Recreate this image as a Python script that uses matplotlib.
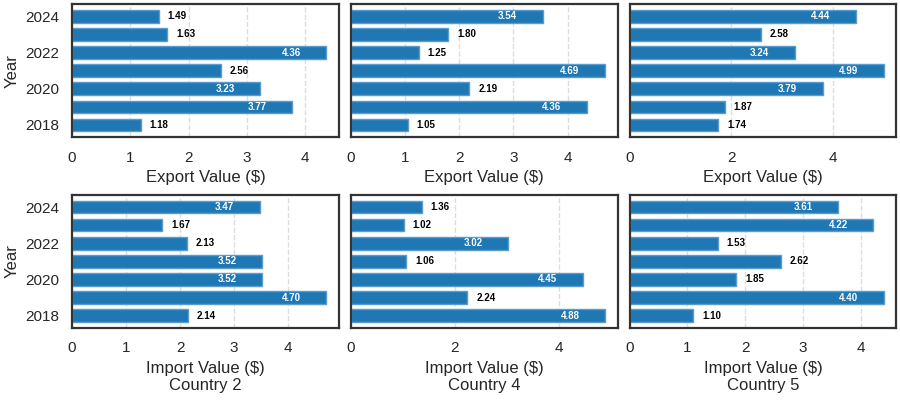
import matplotlib
matplotlib.use("Agg")
import matplotlib.pyplot as plt
import seaborn as sns

sns.set_theme(style="white", context="notebook")
plt.rcParams['font.family'] = ['Liberation Sans', 'DejaVu Sans']

years = [2018, 2019, 2020, 2021, 2022, 2023, 2024]
countries = ["Country 2", "Country 4", "Country 5"]

# export values per country, 2018..2024
export_c2 = [1.18, 3.77, 3.23, 2.56, 4.36, 1.63, 1.49]
export_c4 = [1.05, 4.36, 2.19, 4.69, 1.25, 1.80, 3.54]
export_c5 = [1.74, 1.87, 3.79, 4.99, 3.24, 2.58, 4.44]

# import values per country, 2018..2024
import_c2 = [2.14, 4.70, 3.52, 3.52, 2.13, 1.67, 3.47]
import_c4 = [4.88, 2.24, 4.45, 1.06, 3.02, 1.02, 1.36]
import_c5 = [1.10, 4.40, 1.85, 2.62, 1.53, 4.22, 3.61]

rows = [
    ("Export Value ($)", [export_c2, export_c4, export_c5]),
    ("Import Value ($)", [import_c2, import_c4, import_c5]),
]

fig, axes = plt.subplots(2, 3, figsize=(9, 4), dpi=100, sharey=True)
fig.subplots_adjust(left=0.08, right=0.996, top=0.99, bottom=0.18,
                    wspace=0.045, hspace=0.43)

for r, (xlabel, series) in enumerate(rows):
    for c, vals in enumerate(series):
        ax = axes[r, c]
        ax.barh(years, vals, height=0.7, color='#1f77b4',
                edgecolor='#5a9bd0', linewidth=1, zorder=2)
        vmax = max(vals)
        for y, v in zip(years, vals):
            if v > 0.6 * vmax:
                ax.text(v - 0.1 * vmax, y, f"{v:.2f}", ha='right', va='center',
                        color='white', fontsize=7, fontweight='bold', zorder=3)
            else:
                ax.text(v + 0.035 * vmax, y, f"{v:.2f}", ha='left', va='center',
                        color='black', fontsize=7, fontweight='bold', zorder=3)
        ax.grid(axis='x', linestyle='--', color='#dddddd', linewidth=1, zorder=0)
        ax.set_yticks([2018, 2020, 2022, 2024])
        ax.tick_params(labelsize=11, colors='#262626')
        for sp in ax.spines.values():
            sp.set_color('#333333')
            sp.set_linewidth(1.6)
        if r == 1:
            ax.set_xlabel(xlabel + "\n" + countries[c], fontsize=12,
                          color='#262626')
        else:
            ax.set_xlabel(xlabel, fontsize=12, color='#262626')
        if c == 0:
            ax.set_ylabel("Year", fontsize=12, color='#262626')

fig.savefig("out.png", dpi=100)
